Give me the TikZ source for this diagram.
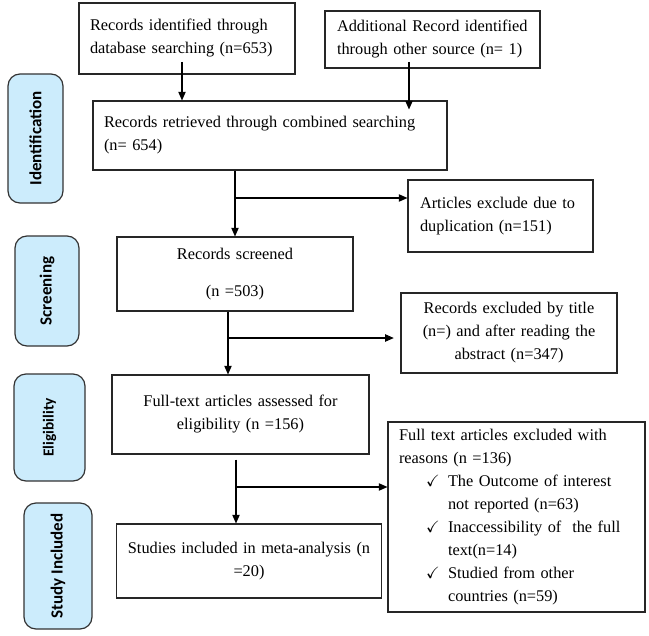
\documentclass[tikz,border=0pt]{standalone}
\usepackage{fontspec}
\usepackage{amssymb}
\setmainfont{Liberation Serif}
\newfontfamily\sidefont{Carlito}
\usetikzlibrary{arrows.meta}
\definecolor{sideblue}{RGB}{204,236,252}

\begin{document}
\begin{tikzpicture}[x=0.75pt,y=-0.75pt,
    box/.style={draw=black!85, line width=0.8pt, inner xsep=8.25pt, inner ysep=0pt,
        font=\fontsize{12.25}{17.25}\selectfont},
    side/.style={draw=black!80, line width=0.9pt, fill=sideblue, rounded corners=9pt,
        rotate=90, inner sep=0pt, font=\sidefont\bfseries\fontsize{12.75}{14}\selectfont},
    arr/.style={-{Triangle[length=6.5pt,width=5.5pt]}, line width=0.8pt}]

    \useasboundingbox (0,0) rectangle (649,635);

    % phase labels
    \node[side, minimum width=96.75pt, minimum height=41.25pt] (sidid) at (35.5,138.5) {Identification};
    \node[side, minimum width=82.5pt, minimum height=48pt] (sidscr) at (47,291) {Screening};
    \node[side, minimum width=80.25pt, minimum height=53.25pt,
        font=\sidefont\bfseries\fontsize{11.5}{13}\selectfont] (sidelig) at (49.5,427.5) {Eligibility};
    \node[side, minimum width=94.5pt, minimum height=51pt] (sidinc) at (58,566) {Study Included};

    % flow boxes
    \node[box, minimum width=162pt, minimum height=53.25pt, text width=145.5pt, align=left] (dbrec) at (187,38.5)
        {Records identified through\\ database searching (n=653)};
    \node[box, minimum width=161.25pt, minimum height=42.75pt, text width=143.25pt, align=left] (othrec) at (432.5,39.5)
        {Additional Record identified\\ through other source (n= 1)};
    \node[box, minimum width=265.5pt, minimum height=51.75pt, text width=249pt, align=left] (comb) at (270,135.5)
        {Records retrieved through combined searching\\ (n= 654)};
    \node[box, minimum width=138.75pt, minimum height=54pt, text width=120.75pt, align=left] (dupl) at (500.5,216)
        {Articles exclude due to\\ duplication (n=151)};
    \node[box, minimum width=177pt, minimum height=55.5pt, text width=160pt, align=center] (scrn) at (235,274)
        {Records screened\\[10.5pt] (n =503)};
    \node[box, minimum width=162pt, minimum height=60pt, text width=145.5pt, align=center] (excl) at (509,333)
        {Records excluded by title\\ (n=) and after reading the\\ abstract (n=347)};
    \node[box, minimum width=192.75pt, minimum height=59.25pt, text width=176pt, align=center] (elig) at (240.5,414.5)
        {Full-text articles assessed for\\ eligibility (n =156)};
    \node[box, minimum width=192.75pt, minimum height=142.5pt, text width=176.25pt, align=left] (exclft) at (516.5,517)
        {Full text articles excluded with\\
         reasons (n =136)\\
         \hspace*{20.25pt}\makebox[16.5pt][l]{$\checkmark$}The Outcome of interest\\
         \hspace*{36.75pt}not reported (n=63)\\
         \hspace*{20.25pt}\makebox[16.5pt][l]{$\checkmark$}Inaccessibility of\ \ the full\\
         \hspace*{36.75pt}text(n=14)\\
         \hspace*{20.25pt}\makebox[16.5pt][l]{$\checkmark$}Studied from other\\
         \hspace*{36.75pt}countries (n=59)};
    \node[box, minimum width=198pt, minimum height=55.5pt, text width=182pt, align=center] (incl) at (249,561)
        {Studies included in meta-analysis (n\\ =20)};

    % connectors
    \coordinate (a1) at (182,62);
    \coordinate (a2) at (409,62);
    \draw[arr] (a1) -- (a1 |- comb.north);
    \draw[arr] (a2) -- ([yshift=-6.75pt]a2 |- comb.north);

    \coordinate (j1) at (235,198);
    \draw[arr] (j1 |- comb.south) -- (j1 |- scrn.north);
    \draw[arr] (j1) -- (j1 -| dupl.west);

    \coordinate (j2) at (228,338);
    \draw[arr] (j2 |- scrn.south) -- (j2 |- elig.north);
    \draw[arr] (j2) -- ([xshift=-5pt]j2 -| excl.west);

    \coordinate (j3) at (236,487);
    \draw[arr] ([yshift=-3.75pt]j3 |- elig.south) -- (j3 |- incl.north);
    \draw[arr] (j3) -- (j3 -| exclft.west);
\end{tikzpicture}
\end{document}
